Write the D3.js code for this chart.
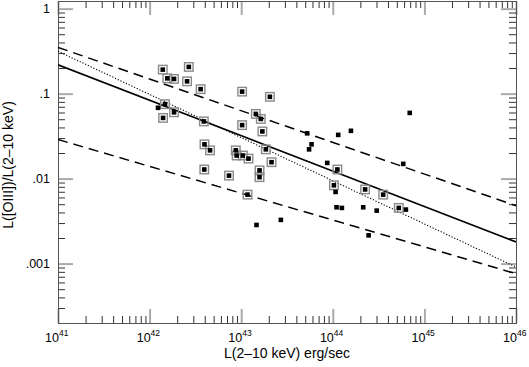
<!DOCTYPE html>
<html>
<head>
<meta charset="utf-8">
<script src="https://cdn.jsdelivr.net/npm/d3@7"></script>
<style>
  html, body { margin: 0; padding: 0; background: #fff; }
  text { font-family: "Liberation Sans", Arial, Helvetica, sans-serif; fill: #000; }
</style>
</head>
<body>
<script>
// ---------- data ----------
// Boxed sources: L(2-10 keV) [erg/s] and L([OIII])/L(2-10 keV)
const boxedX = [1.393e42, 2.679e42, 1.560e42, 1.849e42, 2.564e42, 3.606e42, 1.023e43, 2.056e43,
                1.472e42, 1.849e42, 1.403e42, 3.908e42, 1.023e43, 1.445e43, 1.637e43, 1.702e43,
                3.972e42, 4.571e42, 8.730e42, 8.913e42, 1.042e43, 1.202e43, 1.858e43, 3.954e42,
                7.362e42, 1.585e43, 1.585e43, 2.143e43, 1.172e43, 1.122e44, 1.028e44, 2.254e44,
                3.548e44, 5.248e44];
const boxedY = [0.1916, 0.2061, 0.1514, 0.1489, 0.1395, 0.1129, 0.1056, 0.0917,
                0.0752, 0.0603, 0.0518, 0.0471, 0.0426, 0.0577, 0.0504, 0.0359,
                0.0253, 0.0215, 0.0215, 0.0187, 0.0187, 0.0172, 0.0221, 0.0128,
                0.01085, 0.0125, 0.0104, 0.0156, 0.00648, 0.0128, 0.00834, 0.00746,
                0.00648, 0.00452];
// Plain sources
const plainX = [1.236e42, 6.918e44, 5.248e43, 1.146e44, 1.578e44, 5.861e43, 5.508e43, 8.690e43,
                5.875e44, 1.072e44, 1.099e44, 1.256e44, 2.148e44, 3.013e44, 6.281e44, 2.460e44,
                2.710e43, 1.469e43];
const plainY = [0.0681, 0.0593, 0.0341, 0.0327, 0.0365, 0.0253, 0.0221, 0.0153,
                0.0149, 0.00697, 0.00460, 0.00452, 0.00460, 0.00420, 0.00432, 0.00215,
                0.00327, 0.00285];
// Fitted relations (values at L = 1e41 and 1e46)
const lineX = [1e41, 1e46];
const solidY = [0.218, 0.0018];
const dottedY = [0.315, 0.00091];
const upperDashY = [0.35, 0.0048];
const lowerDashY = [0.0288, 0.00076];
// Tick labels
const xTickExponents = [41, 42, 43, 44, 45, 46];
const yTickValues = [1, 0.1, 0.01, 0.001];
const yTickLabels = ["1", ".1", ".01", ".001"];
const xTitle = "L(2\u201310 keV) erg/sec";
const yTitle = "L([OIII])/L(2\u201310 keV)";

// ---------- layout ----------
const W = 529, H = 367;
const X0 = 58, X1 = 516, Y0 = 1, Y1 = 323;

const svg = d3.select("body").append("svg").attr("width", W).attr("height", H);

const x = d3.scaleLog().domain([1e41, 1e46]).range([X0, X1]);
const y = d3.scaleLog().domain([2e-4, 1.23]).range([Y1, Y0]);

const xMajor = xTickExponents.map(e => Math.pow(10, e));
const xMinor = x.ticks().filter(v => !xMajor.some(m => Math.abs(v / m - 1) < 1e-6));
const yAll = y.ticks();
const yMinor = yAll.filter(v => !yTickValues.some(m => Math.abs(v / m - 1) < 1e-6));

function styleAxis(g, color, width) {
  g.select(".domain").remove();
  g.selectAll(".tick line").attr("stroke", color).attr("stroke-width", width);
  g.selectAll(".tick text").remove();
}
const minorColor = "#333", majorColor = "#aaa";

// bottom
svg.append("g").attr("transform", `translate(0,${Y1})`)
  .call(d3.axisBottom(x).tickValues(xMinor).tickSize(-7).tickFormat(""))
  .call(g => styleAxis(g, minorColor, 1));
svg.append("g").attr("transform", `translate(0,${Y1})`)
  .call(d3.axisBottom(x).tickValues(xMajor).tickSize(-14).tickFormat(""))
  .call(g => styleAxis(g, majorColor, 2));
// top
svg.append("g").attr("transform", `translate(0,${Y0})`)
  .call(d3.axisTop(x).tickValues(xMinor).tickSize(-7).tickFormat(""))
  .call(g => styleAxis(g, minorColor, 1));
svg.append("g").attr("transform", `translate(0,${Y0})`)
  .call(d3.axisTop(x).tickValues(xMajor).tickSize(-14).tickFormat(""))
  .call(g => styleAxis(g, majorColor, 2));
// left
svg.append("g").attr("transform", `translate(${X0},0)`)
  .call(d3.axisLeft(y).tickValues(yMinor).tickSize(-7).tickFormat(""))
  .call(g => styleAxis(g, minorColor, 1));
svg.append("g").attr("transform", `translate(${X0},0)`)
  .call(d3.axisLeft(y).tickValues(yTickValues).tickSize(-15).tickFormat(""))
  .call(g => styleAxis(g, majorColor, 2));
// right
svg.append("g").attr("transform", `translate(${X1},0)`)
  .call(d3.axisRight(y).tickValues(yMinor).tickSize(-7).tickFormat(""))
  .call(g => styleAxis(g, minorColor, 1));
svg.append("g").attr("transform", `translate(${X1},0)`)
  .call(d3.axisRight(y).tickValues(yTickValues).tickSize(-15).tickFormat(""))
  .call(g => styleAxis(g, majorColor, 2));

// frame
svg.append("rect").attr("x", X0 + 0.5).attr("y", Y0 + 0.5)
  .attr("width", X1 - X0).attr("height", Y1 - Y0)
  .attr("fill", "none").attr("stroke", "#555").attr("stroke-width", 1);

// x tick labels: 10^n
const xl = svg.append("g");
xTickExponents.forEach(e => {
  xl.append("text").attr("x", x(Math.pow(10, e)) + 1).attr("y", 342)
    .attr("text-anchor", "end").attr("font-size", 12.5).text("10");
  xl.append("text").attr("x", x(Math.pow(10, e)) + 1).attr("y", 336)
    .attr("font-size", 8.5).text(String(e));
});
// y tick labels
svg.append("g").selectAll("text").data(yTickValues).join("text")
  .attr("x", 50).attr("y", d => y(d) + 4.5)
  .attr("text-anchor", "end").attr("font-size", 12.5)
  .text((d, i) => yTickLabels[i]);

// titles
svg.append("text").attr("x", (X0 + X1) / 2).attr("y", 358)
  .attr("text-anchor", "middle").attr("font-size", 14).text(xTitle);
svg.append("text").attr("transform", `translate(13,${(Y0 + Y1) / 2 + 3}) rotate(-90)`)
  .attr("text-anchor", "middle").attr("font-size", 14).text(yTitle);

// plot content clipped
svg.append("clipPath").attr("id", "clip").append("rect")
  .attr("x", X0).attr("y", Y0).attr("width", X1 - X0).attr("height", Y1 - Y0);
const plot = svg.append("g").attr("clip-path", "url(#clip)");

const line = d3.line().x(d => x(d[0])).y(d => y(d[1]));
function drawLine(ys, dash, width) {
  plot.append("path").datum(lineX.map((v, i) => [v, ys[i]]))
    .attr("d", line).attr("fill", "none").attr("stroke", "#000")
    .attr("stroke-width", width).attr("stroke-dasharray", dash);
}
drawLine(solidY, null, 1.6);
drawLine(dottedY, "1.2,1.8", 1.1);
drawLine(upperDashY, "10,6", 1.5);
drawLine(lowerDashY, "10,6", 1.5);

// boxes
const boxed = boxedX.map((v, i) => [v, boxedY[i]]);
const plain = plainX.map((v, i) => [v, plainY[i]]);
const B = 8.5, S = 4.6;
plot.append("g").selectAll("rect").data(boxed).join("rect")
  .attr("x", d => x(d[0]) - B / 2).attr("y", d => y(d[1]) - B / 2)
  .attr("width", B).attr("height", B)
  .attr("fill", "none").attr("stroke", "#8a8a8a").attr("stroke-width", 1.4);
plot.append("g").selectAll("rect").data(boxed.concat(plain)).join("rect")
  .attr("x", d => x(d[0]) - S / 2).attr("y", d => y(d[1]) - S / 2)
  .attr("width", S).attr("height", S).attr("fill", "#000");
</script>
</body>
</html>
